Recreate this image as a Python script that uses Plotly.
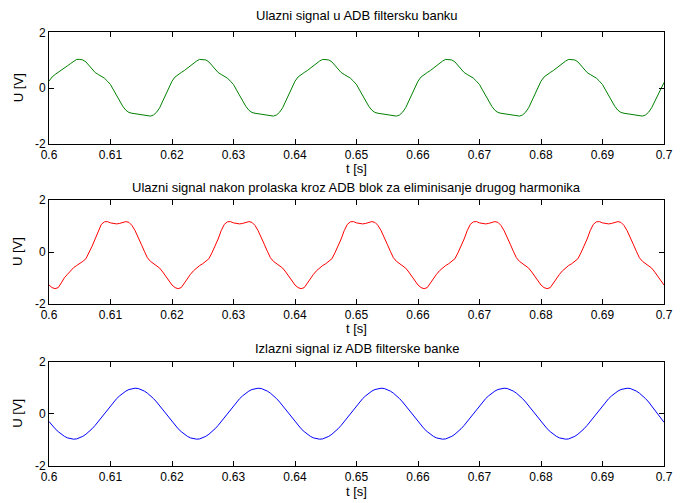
import plotly.graph_objects as go

# ---------------- data ----------------
t_start = 0.6
t_step = 0.0005
n_samples = 201

ulaz = [  # green, input signal  [V]
    0.25, 0.40, 0.49, 0.56, 0.63, 0.72, 0.80, 0.88, 0.97, 1.03, 1.03, 1.01, 0.94, 0.80, 0.69, 0.56, 0.49, 0.43, 0.36, 0.25,
    0.13, -0.07, -0.27, -0.48, -0.65, -0.79, -0.87, -0.90, -0.92, -0.93, -0.95, -0.97, -0.99, -1.00, -0.96, -0.86, -0.70, -0.47, -0.22, 0.03,
    0.25, 0.40, 0.49, 0.56, 0.63, 0.72, 0.80, 0.88, 0.97, 1.03, 1.03, 1.01, 0.94, 0.80, 0.69, 0.56, 0.49, 0.43, 0.36, 0.25,
    0.13, -0.07, -0.27, -0.48, -0.65, -0.79, -0.87, -0.90, -0.92, -0.93, -0.95, -0.97, -0.99, -1.00, -0.96, -0.86, -0.70, -0.47, -0.22, 0.03,
    0.25, 0.40, 0.49, 0.56, 0.63, 0.72, 0.80, 0.88, 0.97, 1.03, 1.03, 1.01, 0.94, 0.80, 0.69, 0.56, 0.49, 0.43, 0.36, 0.25,
    0.13, -0.07, -0.27, -0.48, -0.65, -0.79, -0.87, -0.90, -0.92, -0.93, -0.95, -0.97, -0.99, -1.00, -0.96, -0.86, -0.70, -0.47, -0.22, 0.03,
    0.25, 0.40, 0.49, 0.56, 0.63, 0.72, 0.80, 0.88, 0.97, 1.03, 1.03, 1.01, 0.94, 0.80, 0.69, 0.56, 0.49, 0.43, 0.36, 0.25,
    0.13, -0.07, -0.27, -0.48, -0.65, -0.79, -0.87, -0.90, -0.92, -0.93, -0.95, -0.97, -0.99, -1.00, -0.96, -0.86, -0.70, -0.47, -0.22, 0.03,
    0.25, 0.40, 0.49, 0.56, 0.63, 0.72, 0.80, 0.88, 0.97, 1.03, 1.03, 1.01, 0.94, 0.80, 0.69, 0.56, 0.49, 0.43, 0.36, 0.25,
    0.13, -0.07, -0.27, -0.48, -0.65, -0.79, -0.87, -0.90, -0.92, -0.93, -0.95, -0.97, -0.99, -1.00, -0.96, -0.86, -0.70, -0.47, -0.22, 0.03,
    0.20,
]

nakon_bloka = [  # red, after 2nd-harmonic elimination block [V]
    -1.27, -1.37, -1.41, -1.37, -1.19, -0.99, -0.86, -0.72, -0.60, -0.52, -0.45, -0.36, -0.26, -0.03, 0.22, 0.50, 0.82, 1.06, 1.16, 1.17,
    1.12, 1.09, 1.08, 1.10, 1.14, 1.17, 1.14, 1.02, 0.82, 0.58, 0.30, 0.03, -0.22, -0.36, -0.44, -0.52, -0.62, -0.77, -0.93, -1.12,
    -1.27, -1.37, -1.41, -1.37, -1.19, -0.99, -0.86, -0.72, -0.60, -0.52, -0.45, -0.36, -0.26, -0.03, 0.22, 0.50, 0.82, 1.06, 1.16, 1.17,
    1.12, 1.09, 1.08, 1.10, 1.14, 1.17, 1.14, 1.02, 0.82, 0.58, 0.30, 0.03, -0.22, -0.36, -0.44, -0.52, -0.62, -0.77, -0.93, -1.12,
    -1.27, -1.37, -1.41, -1.37, -1.19, -0.99, -0.86, -0.72, -0.60, -0.52, -0.45, -0.36, -0.26, -0.03, 0.22, 0.50, 0.82, 1.06, 1.16, 1.17,
    1.12, 1.09, 1.08, 1.10, 1.14, 1.17, 1.14, 1.02, 0.82, 0.58, 0.30, 0.03, -0.22, -0.36, -0.44, -0.52, -0.62, -0.77, -0.93, -1.12,
    -1.27, -1.37, -1.41, -1.37, -1.19, -0.99, -0.86, -0.72, -0.60, -0.52, -0.45, -0.36, -0.26, -0.03, 0.22, 0.50, 0.82, 1.06, 1.16, 1.17,
    1.12, 1.09, 1.08, 1.10, 1.14, 1.17, 1.14, 1.02, 0.82, 0.58, 0.30, 0.03, -0.22, -0.36, -0.44, -0.52, -0.62, -0.77, -0.93, -1.12,
    -1.27, -1.37, -1.41, -1.37, -1.19, -0.99, -0.86, -0.72, -0.60, -0.52, -0.45, -0.36, -0.26, -0.03, 0.22, 0.50, 0.82, 1.06, 1.16, 1.17,
    1.12, 1.09, 1.08, 1.10, 1.14, 1.17, 1.14, 1.02, 0.82, 0.58, 0.30, 0.03, -0.22, -0.36, -0.44, -0.52, -0.62, -0.77, -0.93, -1.12,
    -1.27,
]

izlaz = [  # blue, output of the filter bank [V]
    -0.30, -0.45, -0.58, -0.69, -0.79, -0.87, -0.93, -0.97, -0.98, -0.97, -0.93, -0.87, -0.79, -0.69, -0.58, -0.45, -0.30, -0.15, 0.00, 0.15,
    0.30, 0.45, 0.58, 0.69, 0.79, 0.87, 0.93, 0.97, 0.98, 0.97, 0.93, 0.87, 0.79, 0.69, 0.58, 0.45, 0.30, 0.15, 0.00, -0.15,
    -0.30, -0.45, -0.58, -0.69, -0.79, -0.87, -0.93, -0.97, -0.98, -0.97, -0.93, -0.87, -0.79, -0.69, -0.58, -0.45, -0.30, -0.15, 0.00, 0.15,
    0.30, 0.45, 0.58, 0.69, 0.79, 0.87, 0.93, 0.97, 0.98, 0.97, 0.93, 0.87, 0.79, 0.69, 0.58, 0.45, 0.30, 0.15, 0.00, -0.15,
    -0.30, -0.45, -0.58, -0.69, -0.79, -0.87, -0.93, -0.97, -0.98, -0.97, -0.93, -0.87, -0.79, -0.69, -0.58, -0.45, -0.30, -0.15, 0.00, 0.15,
    0.30, 0.45, 0.58, 0.69, 0.79, 0.87, 0.93, 0.97, 0.98, 0.97, 0.93, 0.87, 0.79, 0.69, 0.58, 0.45, 0.30, 0.15, 0.00, -0.15,
    -0.30, -0.45, -0.58, -0.69, -0.79, -0.87, -0.93, -0.97, -0.98, -0.97, -0.93, -0.87, -0.79, -0.69, -0.58, -0.45, -0.30, -0.15, 0.00, 0.15,
    0.30, 0.45, 0.58, 0.69, 0.79, 0.87, 0.93, 0.97, 0.98, 0.97, 0.93, 0.87, 0.79, 0.69, 0.58, 0.45, 0.30, 0.15, 0.00, -0.15,
    -0.30, -0.45, -0.58, -0.69, -0.79, -0.87, -0.93, -0.97, -0.98, -0.97, -0.93, -0.87, -0.79, -0.69, -0.58, -0.45, -0.30, -0.15, 0.00, 0.15,
    0.30, 0.45, 0.58, 0.69, 0.79, 0.87, 0.93, 0.97, 0.98, 0.97, 0.93, 0.87, 0.79, 0.69, 0.58, 0.45, 0.30, 0.15, 0.00, -0.15,
    -0.33,
]

titles = [
    "Ulazni signal u ADB filtersku banku",
    "Ulazni signal nakon prolaska kroz ADB blok za eliminisanje drugog harmonika",
    "Izlazni signal iz ADB filterske banke",
]
x_tick_vals = [0.6, 0.61, 0.62, 0.63, 0.64, 0.65, 0.66, 0.67, 0.68, 0.69, 0.7]
x_tick_text = ["0.6", "0.61", "0.62", "0.63", "0.64", "0.65", "0.66", "0.67", "0.68", "0.69", "0.7"]
y_tick_vals = [-2, 0, 2]
y_tick_text = ["-2", "0", "2"]
x_label = "t [s]"
y_label = "U [V]"

t = [round(t_start + i * t_step, 4) for i in range(n_samples)]

# ---------------- figure ----------------
W, H = 686, 503
FONT = "Liberation Sans, Arial, Helvetica, sans-serif"


def px_x(px):
    return px / W


def py(px):
    return 1 - px / H


x_dom = [px_x(49), px_x(664)]
panels = [  # (top px, bottom px, title y px, xlabel y px) in reference pixels
    (32.3, 144.0, 16, 168),
    (200.0, 304.0, 187, 328),
    (361.7, 465.7, 348, 491),
]
series = [ulaz, nakon_bloka, izlaz]
colors = ["rgb(0,128,0)", "rgb(255,0,0)", "rgb(0,0,255)"]

fig = go.Figure()
annotations = []
for k, ((top, bot, ty, ly), ys, col, ttl) in enumerate(zip(panels, series, colors, titles)):
    suffix = "" if k == 0 else str(k + 1)
    fig.add_trace(go.Scatter(
        x=t, y=ys, mode="lines",
        line=dict(color=col, width=1.0),
        xaxis="x" + suffix, yaxis="y" + suffix, showlegend=False,
        hoverinfo="skip",
    ))
    axis_common = dict(
        showline=True, linecolor="black", linewidth=1, mirror="ticks",
        ticks="inside", ticklen=5, tickcolor="black", tickwidth=1,
        showgrid=False, zeroline=False, automargin=False,
        tickfont=dict(family=FONT, size=12, color="black"),
    )
    fig.update_layout(**{
        "xaxis" + suffix: dict(
            domain=x_dom, range=[0.6, 0.7], anchor="y" + suffix,
            tickmode="array", tickvals=x_tick_vals, ticktext=x_tick_text,
            **axis_common),
        "yaxis" + suffix: dict(
            domain=[py(bot), py(top)], range=[-2, 2], anchor="x" + suffix,
            tickmode="array", tickvals=y_tick_vals, ticktext=y_tick_text,
            **axis_common),
    })
    annotations.append(dict(
        text=ttl, x=px_x(356.5), y=py(ty), xref="paper", yref="paper",
        xanchor="center", yanchor="middle", showarrow=False,
        font=dict(family=FONT, size=13, color="black")))
    annotations.append(dict(
        text=x_label, x=px_x(356.5), y=py(ly), xref="paper", yref="paper",
        xanchor="center", yanchor="middle", showarrow=False,
        font=dict(family=FONT, size=13, color="black")))
    annotations.append(dict(
        text=y_label, x=px_x(18), y=py((top + bot) / 2), xref="paper", yref="paper",
        xanchor="center", yanchor="middle", showarrow=False, textangle=-90,
        font=dict(family=FONT, size=13, color="black")))

fig.update_layout(
    template="none",
    width=W, height=H,
    margin=dict(l=0, r=0, t=0, b=0, pad=0),
    paper_bgcolor="white", plot_bgcolor="white",
    annotations=annotations,
)

# remove the default 8px body margin so the figure fills the window exactly
fig.write_html(
    "out.html",
    config={"displayModeBar": False},
    post_script="document.body.style.margin='0';document.body.style.overflow='hidden';",
)
